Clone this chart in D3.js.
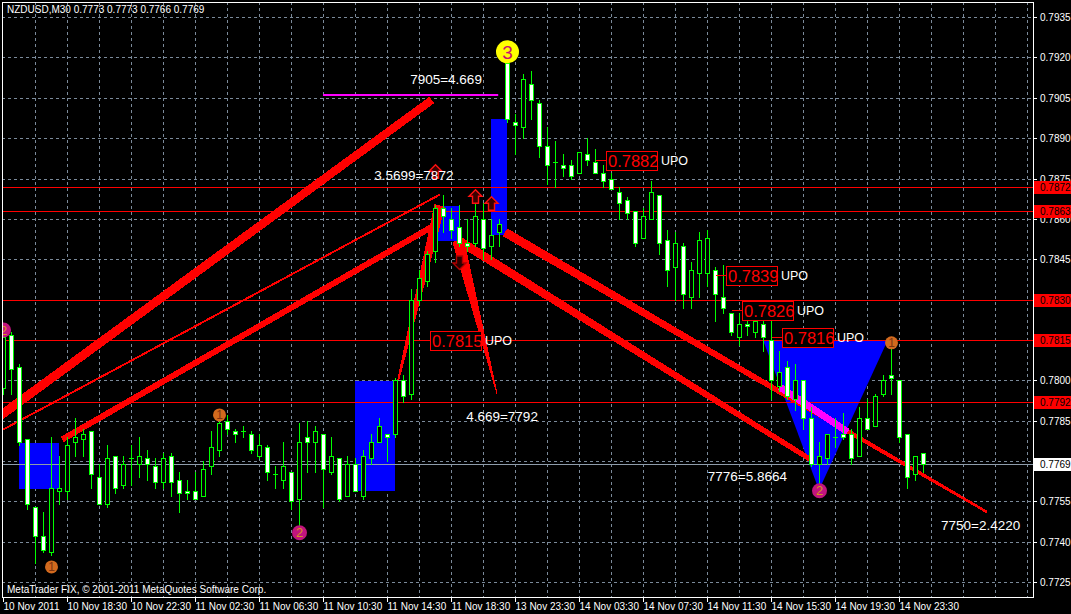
<!DOCTYPE html>
<html><head><meta charset="utf-8">
<script src="https://cdn.jsdelivr.net/npm/d3@7"></script>
<style>body{margin:0;background:#000;overflow:hidden}svg{display:block}</style>
</head><body>
<svg id="c" width="1071" height="614"></svg>
<script>
// ---------- DATA ----------
const symbolTitle = "NZDUSD,M30  0.7773 0.7773 0.7766 0.7769";
const copyright = "MetaTrader FIX, \u00a9 2001-2011 MetaQuotes Software Corp.";
const opens  = [0.7797,0.7817,0.7805,0.7778,0.7753,0.7742,0.7736,0.7759,0.7759,0.7777,0.7778,0.7781,0.7764,0.7754,0.7772,0.7761,0.7771,0.7769,0.7771,0.7768,0.7762,0.7772,0.7763,0.7759,0.7759,0.7757,0.7768,0.7774,0.7785,0.7781,0.7781,0.7780,0.7772,0.7775,0.7765,0.7763,0.7766,0.7756,0.7779,0.7777,0.7780,0.7766,0.7771,0.7757,0.7769,0.7757,0.7771,0.7777,0.7780,0.7780,0.7800,0.7795,0.7830,0.7837,0.7848,0.7864,0.7860,0.7857,0.7851,0.7851,0.7860,0.7850,0.7855,0.7918,0.7896,0.7894,0.7910,0.7903,0.7887,0.7881,0.7880,0.7880,0.7877,0.7884,0.7881,0.7877,0.7875,0.7870,0.7867,0.7863,0.7853,0.7860,0.7869,0.7852,0.7842,0.7850,0.7831,0.7840,0.7840,0.7841,0.7831,0.7825,0.7816,0.7821,0.7818,0.7821,0.7815,0.7798,0.7805,0.7793,0.7800,0.7786,0.7769,0.7771,0.7779,0.7780,0.7780,0.7772,0.7786,0.7783,0.7795,0.7802,0.7800,0.7780,0.7765,0.7773];
const highs  = [0.7819,0.7818,0.7806,0.7778,0.7753,0.7751,0.7779,0.7772,0.7779,0.7786,0.7782,0.7781,0.7769,0.7776,0.7772,0.7772,0.7776,0.7779,0.7774,0.7771,0.7773,0.7773,0.7766,0.7763,0.7766,0.7770,0.7781,0.7785,0.7787,0.7782,0.7783,0.7781,0.7780,0.7776,0.7768,0.7777,0.7766,0.7784,0.7785,0.7783,0.7780,0.7779,0.7771,0.7772,0.7771,0.7774,0.7780,0.7786,0.7780,0.7801,0.7802,0.7834,0.7841,0.7848,0.7865,0.7869,0.7864,0.7865,0.7860,0.7866,0.7866,0.7860,0.7860,0.7919,0.7899,0.7914,0.7915,0.7904,0.7894,0.7889,0.7884,0.7882,0.7885,0.7890,0.7886,0.7880,0.7877,0.7872,0.7868,0.7863,0.7864,0.7874,0.7869,0.7856,0.7855,0.7851,0.7844,0.7855,0.7856,0.7842,0.7843,0.7825,0.7825,0.7824,0.7824,0.7822,0.7822,0.7811,0.7807,0.7806,0.7800,0.7790,0.7777,0.7780,0.7786,0.7788,0.7782,0.7790,0.7793,0.7795,0.7802,0.7814,0.7800,0.7780,0.7772,0.7773];
const lows   = [0.7795,0.7795,0.7776,0.7752,0.7732,0.7736,0.7735,0.7754,0.7756,0.7772,0.7772,0.7760,0.7754,0.7753,0.7758,0.7760,0.7761,0.7764,0.7763,0.7760,0.7760,0.7757,0.7751,0.7756,0.7756,0.7757,0.7765,0.7772,0.7780,0.7777,0.7779,0.7773,0.7771,0.7763,0.7760,0.7760,0.7752,0.7746,0.7766,0.7766,0.7753,0.7765,0.7755,0.7757,0.7759,0.7756,0.7769,0.7777,0.7770,0.7779,0.7792,0.7793,0.7828,0.7835,0.7844,0.7855,0.7853,0.7850,0.7848,0.7850,0.7845,0.7845,0.7850,0.7896,0.7884,0.7890,0.7897,0.7883,0.7873,0.7872,0.7876,0.7875,0.7877,0.7880,0.7877,0.7872,0.7871,0.7860,0.7860,0.7850,0.7853,0.7860,0.7847,0.7835,0.7830,0.7827,0.7827,0.7831,0.7835,0.7822,0.7825,0.7817,0.7813,0.7817,0.7816,0.7811,0.7793,0.7796,0.7793,0.7789,0.7782,0.7768,0.7761,0.7769,0.7775,0.7778,0.7769,0.7772,0.7782,0.7783,0.7794,0.7795,0.7777,0.7760,0.7763,0.7766];
const closes = [0.7816,0.7804,0.7777,0.7754,0.7742,0.7737,0.7760,0.7760,0.7776,0.7779,0.7780,0.7765,0.7754,0.7771,0.7760,0.7769,0.7771,0.7772,0.7769,0.7762,0.7771,0.7762,0.7758,0.7758,0.7756,0.7767,0.7775,0.7784,0.7782,0.7780,0.7781,0.7774,0.7776,0.7766,0.7765,0.7768,0.7755,0.7777,0.7777,0.7781,0.7767,0.7772,0.7756,0.7769,0.7759,0.7772,0.7777,0.7783,0.7779,0.7800,0.7794,0.7830,0.7838,0.7847,0.7864,0.7861,0.7856,0.7851,0.7850,0.7861,0.7849,0.7854,0.7858,0.7897,0.7895,0.7912,0.7904,0.7887,0.7880,0.7881,0.7879,0.7876,0.7885,0.7882,0.7877,0.7874,0.7871,0.7866,0.7862,0.7851,0.7861,0.7870,0.7851,0.7841,0.7851,0.7832,0.7841,0.7852,0.7853,0.7832,0.7827,0.7818,0.7821,0.7820,0.7822,0.7816,0.7800,0.7803,0.7794,0.7800,0.7786,0.7769,0.7772,0.7780,0.7779,0.7779,0.7771,0.7786,0.7782,0.7794,0.7800,0.7801,0.7779,0.7764,0.7772,0.7769];

const timeTickBars   = [0,8,16,24,32,40,48,56,64,72,80,88,96,104,112];
const timeTickLabels = ["10 Nov 2011","10 Nov 18:30","10 Nov 22:30","11 Nov 02:30","11 Nov 06:30","11 Nov 10:30","11 Nov 14:30","11 Nov 18:30","13 Nov 23:30","14 Nov 03:30","14 Nov 07:30","14 Nov 11:30","14 Nov 15:30","14 Nov 19:30","14 Nov 23:30"];
const priceTicks = [0.7935,0.7920,0.7905,0.7890,0.7875,0.7860,0.7845,0.7830,0.7815,0.7800,0.7785,0.7770,0.7755,0.7740,0.7725];
const redLevels = [0.7872,0.7863,0.7830,0.7815,0.7792];
const bidPrice = 0.7769;

// annotation anchors in (bar index, price)
const boxBars0   = [2, 44, 54.1, 61];
const boxBars1   = [7, 49, 57.1, 63];
const boxTop     = [0.77767, 0.77998, 0.78648, 0.78972];
const boxBottom  = [0.77596, 0.77589, 0.78518, 0.78540];
const triangleBars   = [95, 110.6, 102];
const trianglePrices = [0.7815, 0.7815, 0.77592];
const trendBars0   = [-0.4, -0.4, 7.4, 49.4, 56.9, 56.9, 62.75];
const trendPrices0 = [0.77867, 0.7781, 0.7778, 0.7800, 0.7852, 0.7852, 0.7855];
const trendBars1   = [53.6, 54.6, 53.6, 54.6, 61.75, 101.25, 123];
const trendPrices1 = [0.79042, 0.7869, 0.7857, 0.7865, 0.7795, 0.7770, 0.7751];
const pinkSegBars   = [97.1, 105.6];
const pinkSegPrices = [0.77975, 0.77808];
const magentaBars  = [40, 61.9];
const magentaPrice = 0.7906;
const fibTexts  = ["7905=4.669", "3.5699=7872", "4.669=7792", "7776=5.8664", "7750=2.4220"];
const fibBars   = [50.9, 46.4, 57.9, 88.1, 117.25];
const fibPrices = [0.7910, 0.78745, 0.77849, 0.77626, 0.77444];
const upoLabels = ["0.7882", "0.7839", "0.7826", "0.7816", "0.7815"];
const upoBars   = [74, 89, 91, 96, 52];
const circle3Bars = [63],            circle3Prices = [0.79221];
const circle2Bars = [0, 37, 102],    circle2Prices = [0.78187, 0.77433, 0.77589];
const circle1Bars = [6, 27, 111],    circle1Prices = [0.77306, 0.77871, 0.78139];
const upArrowBars = [54, 59, 61],    upArrowPrices = [0.78801, 0.78708, 0.78682];
const downArrowBars = [57],          downArrowPrices = [0.78462];

// ---------- DRAW ----------
const svg = d3.select('#c');
const L = 2, R = 1033, T = 2, B = 597;
const x = d3.scaleLinear().domain([0, 115]).range([3, 923]);
const y = d3.scaleLinear().domain([0.7725, 0.7935]).range([582, 17.1]);
const font = "'Liberation Sans', Arial, sans-serif";

svg.append('rect').attr('width', 1071).attr('height', 614).attr('fill', '#000');
svg.append('clipPath').attr('id', 'clip').append('rect')
  .attr('x', L).attr('y', T).attr('width', R - L).attr('height', B - T);
const plot = svg.append('g').attr('clip-path', 'url(#clip)');

// grid
const gridCol = '#7b8a9a';
plot.append('g').selectAll('line').data(priceTicks).join('line')
  .attr('x1', L).attr('x2', R)
  .attr('y1', d => Math.round(y(d)) + 0.5).attr('y2', d => Math.round(y(d)) + 0.5)
  .attr('stroke', gridCol).attr('stroke-dasharray', '3,3').attr('shape-rendering', 'crispEdges');
plot.append('g').selectAll('line').data(d3.range(4, 132, 4)).join('line')
  .attr('x1', d => Math.round(x(d)) + 0.5).attr('x2', d => Math.round(x(d)) + 0.5)
  .attr('y1', T).attr('y2', B)
  .attr('stroke', gridCol).attr('stroke-dasharray', '3,3').attr('shape-rendering', 'crispEdges');

// blue boxes
plot.append('g').selectAll('rect').data(boxBars0).join('rect')
  .attr('x', (d, i) => x(d)).attr('width', (d, i) => x(boxBars1[i]) - x(d))
  .attr('y', (d, i) => y(boxTop[i])).attr('height', (d, i) => y(boxBottom[i]) - y(boxTop[i]))
  .attr('fill', '#0000ff').attr('shape-rendering', 'crispEdges');

// blue triangle
plot.append('polygon')
  .attr('points', triangleBars.map((b, i) => [x(b), y(trianglePrices[i])].join(',')).join(' '))
  .attr('fill', '#0000ff');

// bid line and red levels
plot.append('line').attr('x1', L).attr('x2', R)
  .attr('y1', Math.round(y(bidPrice)) + 0.5).attr('y2', Math.round(y(bidPrice)) + 0.5)
  .attr('stroke', '#8e9cab').attr('shape-rendering', 'crispEdges');
plot.append('g').selectAll('line').data(redLevels).join('line')
  .attr('x1', L).attr('x2', R)
  .attr('y1', d => Math.round(y(d)) + 0.5).attr('y2', d => Math.round(y(d)) + 0.5)
  .attr('stroke', '#ff0000').attr('shape-rendering', 'crispEdges');

// wedge-shaped trend lines
function wedge(x0, y0, x1, y1, w0, w1) {
  const dx = x1 - x0, dy = y1 - y0, len = Math.hypot(dx, dy);
  const nx = -dy / len, ny = dx / len;
  return [[x0 + nx * w0 / 2, y0 + ny * w0 / 2], [x1 + nx * w1 / 2, y1 + ny * w1 / 2],
          [x1 - nx * w1 / 2, y1 - ny * w1 / 2], [x0 - nx * w0 / 2, y0 - ny * w0 / 2]]
    .map(p => p.join(',')).join(' ');
}
const trendW0 = [9, 2, 6, 2, 12, 9, 9];
const trendW1 = [8, 2, 6, 11, 1, 5, 2.5];
plot.append('g').selectAll('polygon').data(trendBars0).join('polygon')
  .attr('points', (d, i) => wedge(x(d), y(trendPrices0[i]), x(trendBars1[i]), y(trendPrices1[i]), trendW0[i], trendW1[i]))
  .attr('fill', '#ff0000').attr('shape-rendering', 'crispEdges');
plot.append('polygon')
  .attr('points', wedge(x(pinkSegBars[0]), y(pinkSegPrices[0]), x(pinkSegBars[1]), y(pinkSegPrices[1]), 7, 7))
  .attr('fill', '#ff00ff').attr('shape-rendering', 'crispEdges');
plot.append('rect').attr('x', x(magentaBars[0])).attr('width', x(magentaBars[1]) - x(magentaBars[0]))
  .attr('y', Math.round(y(magentaPrice)) - 1).attr('height', 2).attr('fill', '#ff00ff');

// candles
const bars = d3.range(opens.length);
const cg = plot.append('g').attr('shape-rendering', 'crispEdges');
bars.forEach(i => {
  const cx = Math.round(x(i));
  const yh = Math.round(y(highs[i])), yl = Math.round(y(lows[i]));
  const top = Math.round(y(Math.max(opens[i], closes[i])));
  const bot = Math.round(y(Math.min(opens[i], closes[i])));
  cg.append('rect').attr('x', cx).attr('y', yh).attr('width', 1).attr('height', Math.max(1, yl - yh + 1)).attr('fill', '#00ff00');
  cg.append('rect').attr('x', cx - 2).attr('y', top).attr('width', 5).attr('height', Math.max(1, bot - top + 1)).attr('fill', '#00ff00');
  if (bot - top >= 2) {
    cg.append('rect').attr('x', cx - 1).attr('y', top + 1).attr('width', 3).attr('height', bot - top - 1)
      .attr('fill', closes[i] < opens[i] ? '#ffffff' : '#000000');
  }
});

// circles
function circles(bs, ps, r, fill, label, tcol, fs) {
  const g = plot.append('g');
  bs.forEach((b, i) => {
    const cx = x(b) + 0.5, cy = y(ps[i]);
    g.append('circle').attr('cx', cx).attr('cy', cy).attr('r', r).attr('fill', fill);
    g.append('text').attr('x', cx).attr('y', cy + fs * 0.36).attr('text-anchor', 'middle')
      .attr('font-family', font).attr('font-size', fs).attr('fill', tcol).text(label);
  });
}
circles(circle3Bars, circle3Prices, 11.5, '#ffff00', '3', '#c8106e', 19);
circles(circle2Bars, circle2Prices, 7.5, '#c2147e', '2', '#d6921e', 13);
circles(circle1Bars, circle1Prices, 6.5, '#d26a1e', '1', '#7a3210', 12);

// arrows
function arrowPath(cx, y0, dir) {
  const pts = [[0, 0], [6.5, 6.5], [3, 6.5], [3, 13.5], [-3, 13.5], [-3, 6.5], [-6.5, 6.5]];
  return 'M' + pts.map(p => [cx + p[0], dir > 0 ? y0 + p[1] : y0 + 13.5 - p[1]].join(',')).join('L') + 'Z';
}
upArrowBars.forEach((b, i) => {
  plot.append('path').attr('d', arrowPath(x(b) + 0.5, y(upArrowPrices[i]), 1))
    .attr('fill', '#3a0000').attr('stroke', '#ff1010').attr('stroke-width', 1.4);
});
downArrowBars.forEach((b, i) => {
  plot.append('path').attr('d', arrowPath(x(b) + 0.5, y(downArrowPrices[i]), -1))
    .attr('fill', '#2a0000').attr('stroke', '#b00000').attr('stroke-width', 1.4);
});

// fib texts
plot.append('g').selectAll('text').data(fibTexts).join('text')
  .attr('x', (d, i) => x(fibBars[i])).attr('y', (d, i) => y(fibPrices[i]))
  .attr('font-family', font).attr('font-size', 13.5).attr('fill', '#ffffff').text(d => d);

// UPO boxed labels
upoLabels.forEach((lab, i) => {
  const p = +lab, cx = Math.round(x(upoBars[i])), cy = Math.round(y(p));
  const bx = cx + 11, bw = 51, bh = 19;
  plot.append('line').attr('x1', cx + 1).attr('x2', bx).attr('y1', cy + 0.5).attr('y2', cy + 0.5)
    .attr('stroke', '#ff0000').attr('shape-rendering', 'crispEdges');
  plot.append('rect').attr('x', bx + 0.5).attr('y', cy - 9 + 0.5).attr('width', bw).attr('height', bh)
    .attr('fill', '#000').attr('stroke', '#ff0000').attr('shape-rendering', 'crispEdges');
  plot.append('text').attr('x', bx + 2).attr('y', cy + 6.5).attr('font-family', font)
    .attr('font-size', 16.5).attr('fill', '#ff0000').text(lab);
  plot.append('text').attr('x', bx + bw + 4).attr('y', cy + 5).attr('font-family', font)
    .attr('font-size', 12.5).attr('fill', '#ffffff').text('UPO');
});

// title / copyright
svg.append('text').attr('x', 7).attr('y', 13).attr('font-family', font).attr('font-size', 10)
  .attr('fill', '#ffffff').text(symbolTitle);
svg.append('text').attr('x', 7).attr('y', 593).attr('font-family', font).attr('font-size', 10)
  .attr('fill', '#ffffff').text(copyright);

// border
svg.append('rect').attr('x', L + 0.5).attr('y', T + 0.5).attr('width', R - L).attr('height', B - T)
  .attr('fill', 'none').attr('stroke', '#ffffff').attr('shape-rendering', 'crispEdges');

// price axis (tick labels hidden where a level marker covers them)
const ax = svg.append('g').attr('font-family', font).attr('font-size', 10);
priceTicks.forEach(p => {
  const yy = Math.round(y(p)) + 0.5;
  ax.append('line').attr('x1', R).attr('x2', R + 4).attr('y1', yy).attr('y2', yy)
    .attr('stroke', '#fff').attr('shape-rendering', 'crispEdges');
  if (Math.abs(p - bidPrice) > 0.00015) {
    ax.append('text').attr('x', 1040).attr('y', yy + 3.5).attr('fill', '#fff').text(d3.format('.4f')(p));
  }
});
redLevels.forEach(p => {
  const yy = Math.round(y(p));
  ax.append('rect').attr('x', R + 1).attr('y', yy - 6).attr('width', 1071 - R).attr('height', 13).attr('fill', '#ff0000');
  ax.append('text').attr('x', 1040).attr('y', yy + 4).attr('fill', '#000').text(d3.format('.4f')(p));
});
{
  const yy = Math.round(y(bidPrice));
  ax.append('rect').attr('x', R + 1).attr('y', yy - 6).attr('width', 1071 - R).attr('height', 13).attr('fill', '#ffffff');
  ax.append('text').attr('x', 1040).attr('y', yy + 4).attr('fill', '#000').text(d3.format('.4f')(bidPrice));
}

// time axis
const tx = svg.append('g').attr('font-family', font).attr('font-size', 10);
timeTickBars.forEach((b, i) => {
  const xx = Math.round(x(b)) + 0.5;
  tx.append('line').attr('x1', xx).attr('x2', xx).attr('y1', B).attr('y2', B + 5)
    .attr('stroke', '#fff').attr('shape-rendering', 'crispEdges');
  tx.append('text').attr('x', xx).attr('y', 610).attr('fill', '#fff').text(timeTickLabels[i]);
});
</script>
</body></html>
